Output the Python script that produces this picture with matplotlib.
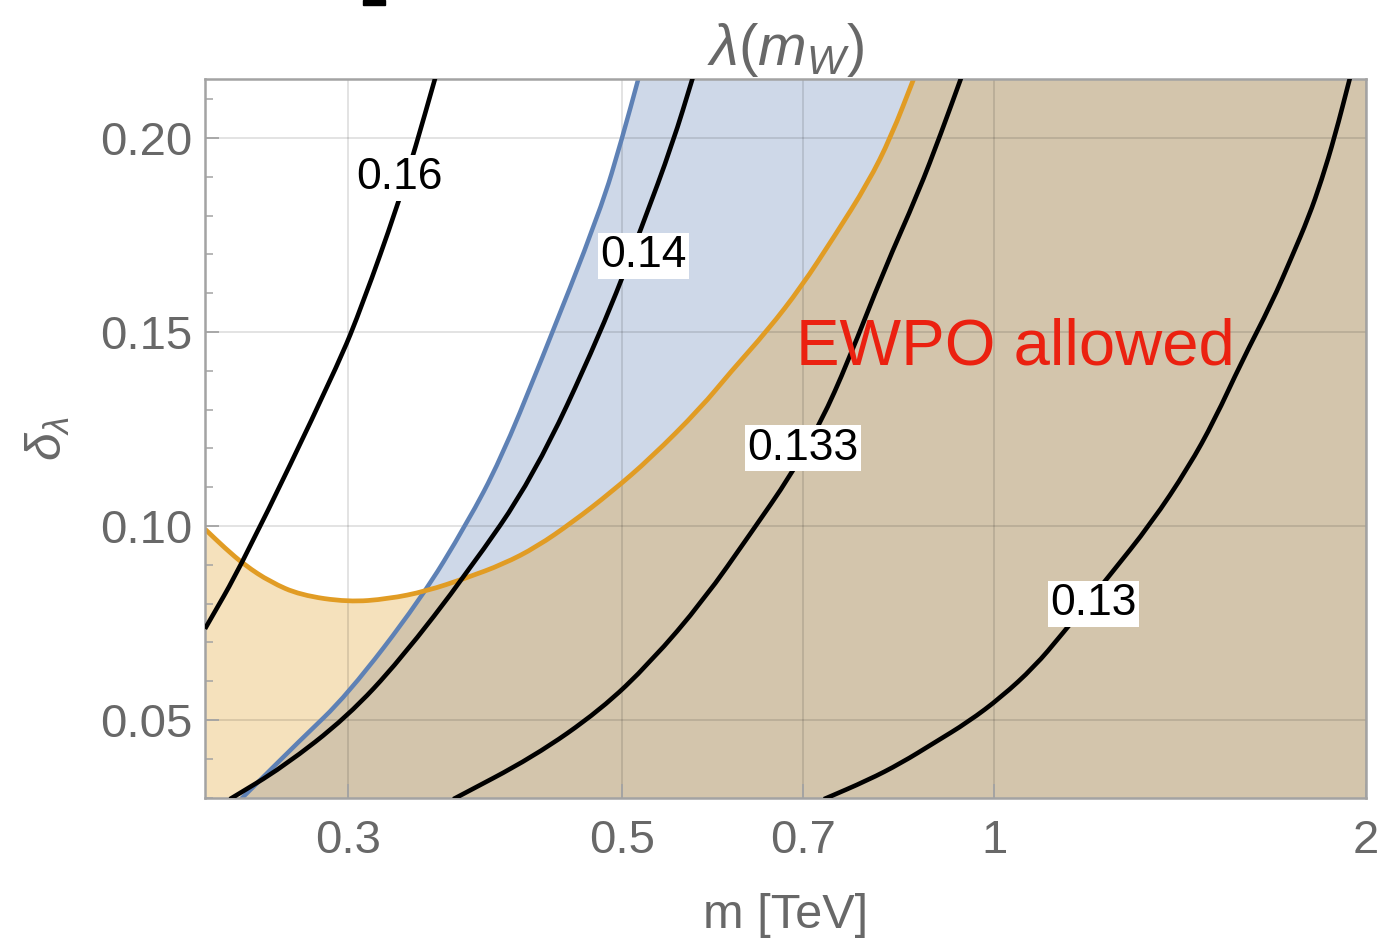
import numpy as np
import matplotlib
matplotlib.use('Agg')
import matplotlib.pyplot as plt
from matplotlib.patches import Rectangle, PathPatch
from matplotlib.path import Path
from matplotlib.ticker import MultipleLocator, NullLocator

plt.rcParams['font.family'] = ['Liberation Sans', 'DejaVu Sans']
plt.rcParams['mathtext.fontset'] = 'custom'
plt.rcParams['mathtext.rm'] = 'Liberation Sans'
plt.rcParams['mathtext.it'] = 'Liberation Sans:italic'

# ---------------- data ----------------
# black contours of lambda(m_W)
m_016 = [0.2296, 0.2464, 0.2938, 0.3083, 0.3285, 0.3398, 0.3527]
d_016 = [0.0735, 0.0905, 0.1410, 0.1575, 0.1822, 0.1974, 0.2155]

m_014 = [0.2405, 0.2656, 0.2993, 0.3304, 0.3744, 0.4236, 0.4801, 0.5192, 0.5492, 0.5700]
d_014 = [0.0296, 0.0379, 0.0508, 0.0655, 0.0879, 0.1126, 0.1497, 0.1776, 0.1987, 0.2155]

m_0133 = [0.3648, 0.4236, 0.4801, 0.5270, 0.5818, 0.6353, 0.6845, 0.7241, 0.7613, 0.8144,
          0.8677, 0.9058, 0.9402]
d_0133 = [0.0296, 0.0405, 0.0526, 0.0649, 0.0809, 0.0982, 0.1131, 0.1268, 0.1423, 0.1660,
          0.1858, 0.2013, 0.2155]

m_013 = [0.7280, 0.7903, 0.8407, 0.8939, 0.9526, 1.0132, 1.0776, 1.1334, 1.2375, 1.3408,
         1.4367, 1.5079, 1.5860, 1.6777, 1.7413, 1.7972, 1.8413, 1.8866, 1.9411]
d_013 = [0.0296, 0.0345, 0.0389, 0.0441, 0.0495, 0.0559, 0.0637, 0.0719, 0.0869, 0.1008,
         0.1152, 0.1273, 0.1423, 0.1575, 0.1693, 0.1796, 0.1892, 0.2003, 0.2155]

# blue boundary (region to its right is shaded)
m_blue = [0.2455, 0.2742, 0.2993, 0.3429, 0.3744, 0.3982, 0.4284, 0.4801, 0.5001, 0.5153]
d_blue = [0.0296, 0.0448, 0.0564, 0.0809, 0.1008, 0.1170, 0.1415, 0.1814, 0.2003, 0.2155]

# orange boundary (EWPO, region below is shaded)
m_orange = [0.2296, 0.2383, 0.2473, 0.2593, 0.2742, 0.2998, 0.3231, 0.3468, 0.3737, 0.4005,
            0.4260, 0.4556, 0.4900, 0.5270, 0.5785, 0.6117, 0.6557, 0.6977, 0.7418, 0.7903,
            0.8250, 0.8612]
d_orange = [0.0992, 0.0943, 0.0899, 0.0856, 0.0822, 0.0804, 0.0812, 0.0832, 0.0866, 0.0902,
            0.0946, 0.1010, 0.1088, 0.1175, 0.1304, 0.1397, 0.1505, 0.1616, 0.1745, 0.1884,
            0.2003, 0.2155]

contour_labels = ['0.16', '0.14', '0.133', '0.13']
label_m = [0.3298, 0.5200, 0.6999, 1.2032]
label_d = [0.1897, 0.1696, 0.1201, 0.0799]

x_ticks = [0.3, 0.5, 0.7, 1, 2]
x_ticklabels = ['0.3', '0.5', '0.7', '1', '2']
y_ticks = [0.05, 0.10, 0.15, 0.20]
y_ticklabels = ['0.05', '0.10', '0.15', '0.20']

XMIN, XMAX = 0.2296, 2.0
YMIN, YMAX = 0.0299, 0.2152

BLUE = '#5E81B5'
ORANGE = '#E19C24'
GRAY_TXT = '#686868'
SPINE = '#A3A3A3'


def smooth_curve(ms, ds):
    """Quadratic B-spline style path (in log-m space) through the read points."""
    lm = np.log10(np.asarray(ms, float))
    d = np.asarray(ds, float)
    n = len(lm)
    mid = lambda i: (10 ** ((lm[i] + lm[i + 1]) / 2), (d[i] + d[i + 1]) / 2)
    verts = [(ms[0], ds[0]), mid(0)]
    codes = [Path.MOVETO, Path.LINETO]
    for i in range(1, n - 1):
        verts += [(ms[i], ds[i]), mid(i)]
        codes += [Path.CURVE3, Path.CURVE3]
    verts.append((ms[-1], ds[-1]))
    codes.append(Path.LINETO)
    return verts, codes


# ---------------- figure ----------------
fig = plt.figure(figsize=(13.77, 9.43), dpi=100)
ax = fig.add_axes([205 / 1377, 1 - 798 / 943, (1366 - 205) / 1377, (798 - 79) / 943])
ax.set_xscale('log')
ax.set_xlim(XMIN, XMAX)
ax.set_ylim(YMIN, YMAX)

lo, hi, right = YMIN - 0.01, YMAX + 0.01, XMAX * 1.05

# shaded region right of the blue boundary
v, c = smooth_curve(m_blue, d_blue)
v = v + [(right, hi), (right, lo), (m_blue[0], lo), (m_blue[0], lo)]
c = c + [Path.LINETO, Path.LINETO, Path.LINETO, Path.CLOSEPOLY]
ax.add_patch(PathPatch(Path(v, c), facecolor=BLUE, alpha=0.3, lw=0, zorder=0.5))

# shaded region below the orange boundary
v, c = smooth_curve(m_orange, d_orange)
v = v + [(right, hi), (right, lo), (XMIN / 1.05, lo), (XMIN / 1.05, d_orange[0]),
         (XMIN / 1.05, d_orange[0])]
c = c + [Path.LINETO, Path.LINETO, Path.LINETO, Path.LINETO, Path.CLOSEPOLY]
ax.add_patch(PathPatch(Path(v, c), facecolor=ORANGE, alpha=0.3, lw=0, zorder=0.6))

# boundaries
v, c = smooth_curve(m_blue, d_blue)
ax.add_patch(PathPatch(Path(v, c), fill=False, edgecolor=BLUE, lw=3.2, zorder=2))
v, c = smooth_curve(m_orange, d_orange)
ax.add_patch(PathPatch(Path(v, c), fill=False, edgecolor=ORANGE, lw=3.4, zorder=2.1))

# contours
for mm, dd in [(m_016, d_016), (m_014, d_014), (m_0133, d_0133), (m_013, d_013)]:
    v, c = smooth_curve(mm, dd)
    ax.add_patch(PathPatch(Path(v, c), fill=False, edgecolor='black', lw=3.3, zorder=3))

for lab, xm, yd in zip(contour_labels, label_m, label_d):
    ax.text(xm, yd, lab, fontsize=32, color='black', ha='center', va='center', zorder=4,
            bbox=dict(boxstyle='square,pad=0.06', facecolor='white', edgecolor='none'))

ax.text(0.691, 0.1415, 'EWPO allowed', color='#EB2110', fontsize=47, ha='left',
        va='baseline', zorder=5)

# grid / ticks
ax.grid(True, color='black', alpha=0.12, lw=1.3, zorder=1.5)
ax.set_xticks(x_ticks)
ax.set_xticklabels(x_ticklabels)
ax.xaxis.set_minor_locator(NullLocator())
ax.set_yticks(y_ticks)
ax.set_yticklabels(y_ticklabels)
ax.yaxis.set_minor_locator(MultipleLocator(0.01))
ax.tick_params(which='both', direction='in', colors=SPINE, labelcolor=GRAY_TXT,
               labelsize=34, pad=9)
ax.tick_params(axis='x', pad=15)
ax.tick_params(which='major', length=10, width=1.3)
ax.tick_params(which='minor', length=6, width=1.1)
ax.tick_params(axis='x', which='minor', length=0)
for s in ax.spines.values():
    s.set_color(SPINE)
    s.set_linewidth(1.8)

ax.set_xlabel('m [TeV]', fontsize=35, color=GRAY_TXT, labelpad=22)
ax.set_ylabel(r'$\delta_\lambda$', fontsize=36, color=GRAY_TXT, labelpad=20)
ax.set_title(r'$\lambda(m_W)$', fontsize=42, color=GRAY_TXT, pad=2)

# small cropped mark at the very top of the image
fig.patches.append(Rectangle((363 / 1377, 1 - 5 / 943), 22 / 1377, 5 / 943,
                             transform=fig.transFigure, color='black', zorder=10))

fig.savefig('out.png', dpi=100)
